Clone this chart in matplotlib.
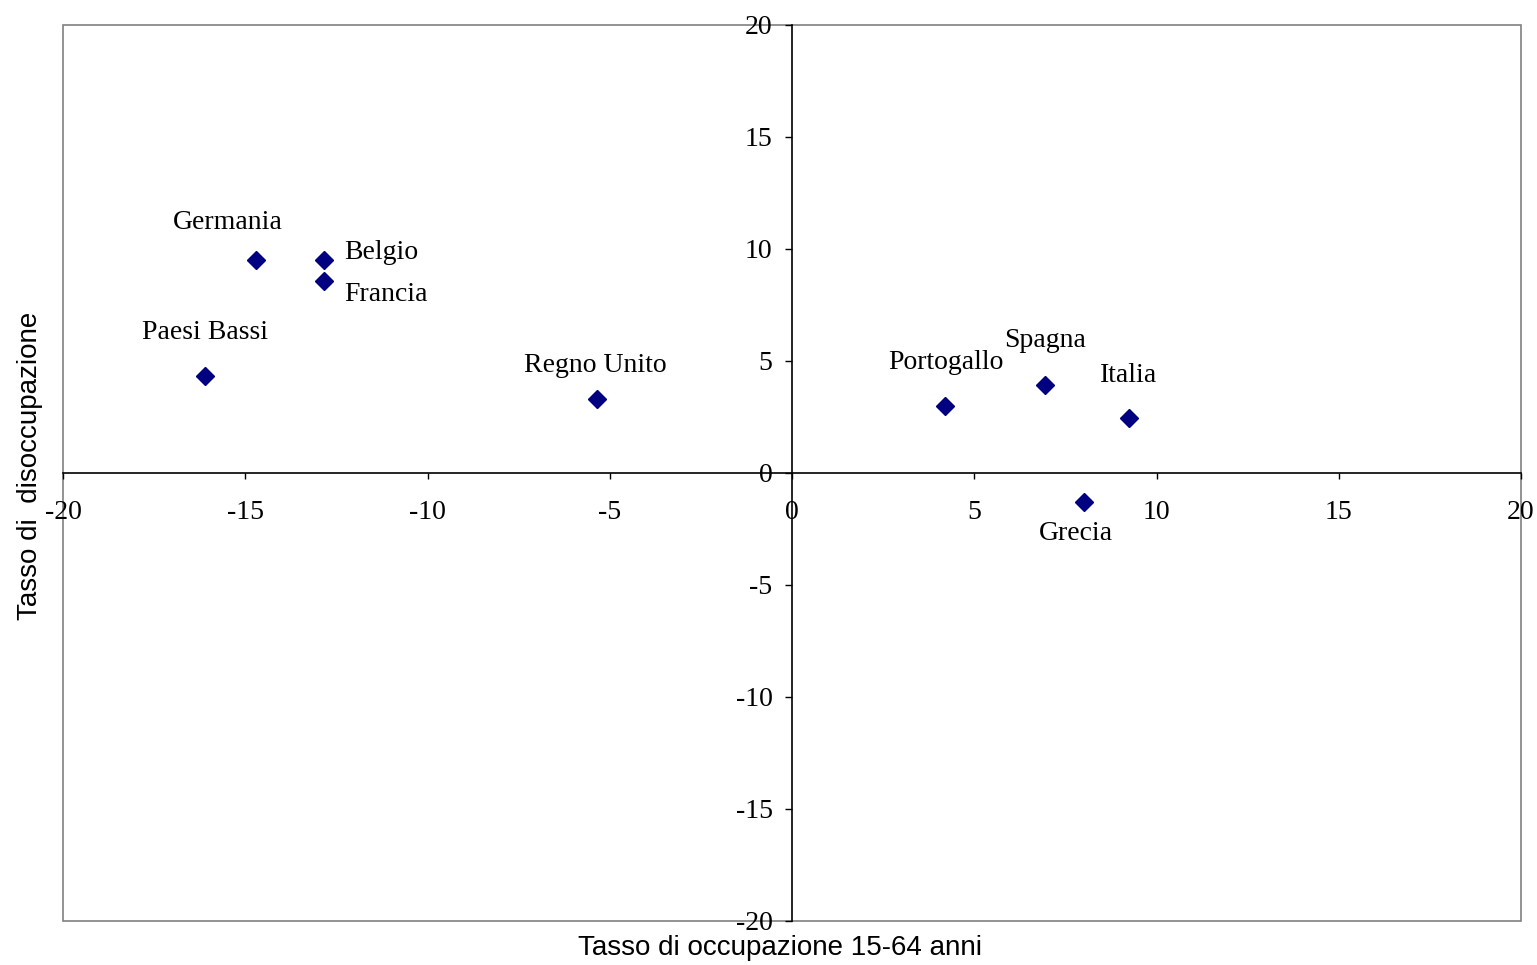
import matplotlib
matplotlib.use("Agg")
import matplotlib.pyplot as plt
from matplotlib.patches import Rectangle

countries = ["Germania", "Belgio", "Francia", "Paesi Bassi", "Regno Unito",
             "Portogallo", "Spagna", "Italia", "Grecia"]
occupazione = [-14.7, -12.85, -12.85, -16.1, -5.35, 4.2, 6.95, 9.25, 8.0]
disoccupazione = [9.5, 9.5, 8.55, 4.35, 3.3, 3.0, 3.95, 2.45, -1.3]
ticks = [-20, -15, -10, -5, 0, 5, 10, 15, 20]
xlabel = "Tasso di occupazione 15-64 anni"
ylabel = "Tasso di  disoccupazione"

# label offsets in pixels (dx, dy, ha)
offsets = {
    "Germania": (-28, 38, "center"),
    "Belgio": (21, 8, "left"),
    "Francia": (21, -13, "left"),
    "Paesi Bassi": (0, 43, "center"),
    "Regno Unito": (-2, 34, "center"),
    "Portogallo": (1, 43, "center"),
    "Spagna": (0, 44, "center"),
    "Italia": (-1, 43, "center"),
    "Grecia": (-8, -31, "center"),
}

W, H = 1537, 965
fig = plt.figure(figsize=(W / 100, H / 100), dpi=100)
L, R, T, B = 63, 1521, 25, 921
ax = fig.add_axes([L / W, 1 - B / H, (R - L) / W, (B - T) / H])

serif = "Liberation Serif"
FS = 20
ax.plot(occupazione, disoccupazione, linestyle="none", marker="D",
        markersize=9.5, color="#000080", zorder=5)

for c, x, y in zip(countries, occupazione, disoccupazione):
    dx, dy, ha = offsets[c]
    ax.annotate(c, (x, y), xytext=(dx, dy), textcoords="offset pixels",
                ha=ha, va="center", fontsize=FS, family=serif)

for s in ["top", "right"]:
    ax.spines[s].set_visible(False)
ax.spines["left"].set_position(("data", 0))
ax.spines["bottom"].set_position(("data", 0))
ax.spines["left"].set_color("black")
ax.spines["bottom"].set_color("black")
ax.spines["left"].set_linewidth(1.2)
ax.spines["bottom"].set_linewidth(1.2)

ax.set_xlim(-20, 20)
ax.set_ylim(-20, 20)
ax.set_xticks(ticks)
ax.set_yticks(ticks)
ax.set_xticklabels([str(t) for t in ticks])
ax.set_yticklabels([str(t) for t in ticks])
for lab in ax.get_xticklabels() + ax.get_yticklabels():
    lab.set_fontfamily(serif)
    lab.set_fontsize(FS)
ax.tick_params(axis="x", direction="out", length=4.5, pad=15, width=1)
ax.tick_params(axis="y", direction="out", length=5, pad=9, width=1)

frame = Rectangle((0, 0), 1, 1, transform=ax.transAxes, fill=False,
                  edgecolor="#808080", linewidth=1.2, clip_on=False, zorder=0)
ax.add_patch(frame)

fig.text(780 / W, 1 - 948 / H, xlabel, ha="center", va="center",
         family="Liberation Sans", fontsize=20)
fig.text(30 / W, 1 - 466 / H, ylabel, ha="center", va="center", rotation=90,
         family="Liberation Sans", fontsize=20)

fig.savefig("out.png", dpi=100)
